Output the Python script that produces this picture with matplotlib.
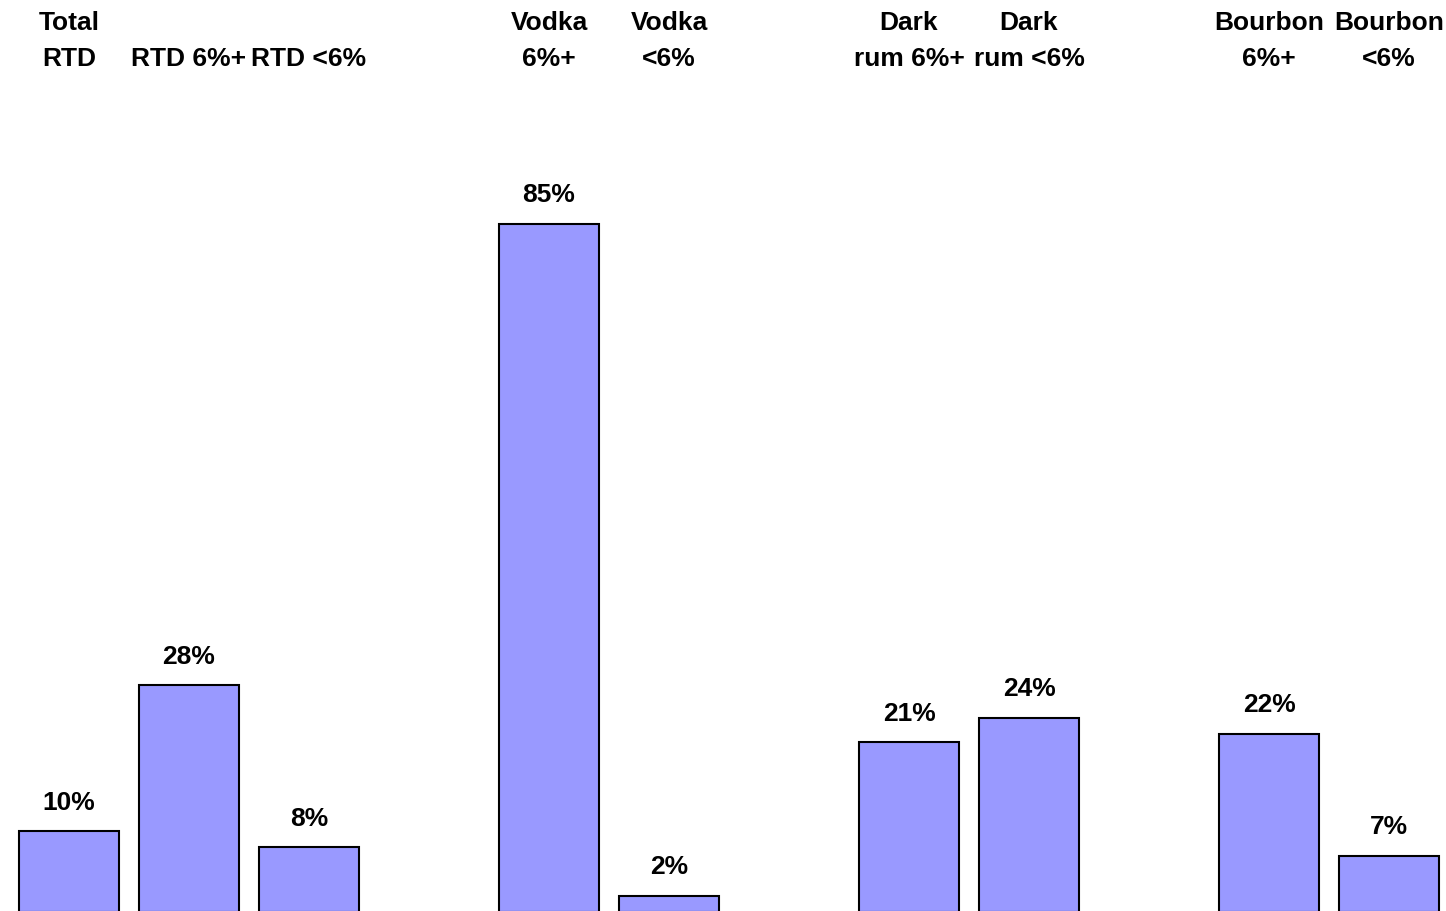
import matplotlib
matplotlib.use("Agg")
import matplotlib.pyplot as plt
from matplotlib.transforms import blended_transform_factory

# Data
label_line1 = ["Total", "", "", "Vodka", "Vodka", "Dark", "Dark", "Bourbon", "Bourbon"]
label_line2 = ["RTD", "RTD 6%+", "RTD <6%", "6%+", "<6%", "rum 6%+", "rum <6%", "6%+", "<6%"]
values = [10, 28, 8, 85, 2, 21, 24, 22, 7]
group_sizes = [3, 2, 2, 2]

plt.rcParams['font.family'] = ['Liberation Sans', 'DejaVu Sans']

# positions: groups separated by one empty slot
positions = []
slot = 0
for g in group_sizes:
    for _ in range(g):
        positions.append(slot)
        slot += 1
    slot += 1

fig = plt.figure(figsize=(14.46, 9.11), dpi=100)
ax = fig.add_axes([0, 0, 1, 1])
ax.bar(positions, values, width=100/120, color="#9999FF", edgecolor="black", linewidth=1.5)
ax.set_xlim(-0.575, 11.475)
ax.set_ylim(0.15, 112.6)
ax.axis('off')

for x, v in zip(positions, values):
    ax.annotate(f"{v}%", xy=(x, v), xytext=(0, 15.5), textcoords="offset points",
                ha="center", va="baseline", fontsize=19, fontweight="bold")

tr = blended_transform_factory(ax.transData, ax.transAxes)
for x, l1, l2 in zip(positions, label_line1, label_line2):
    if l1:
        ax.text(x, 1 - 30/911, l1, transform=tr, ha="center", va="baseline",
                fontsize=19, fontweight="bold")
    ax.text(x, 1 - 66/911, l2, transform=tr, ha="center", va="baseline",
            fontsize=19, fontweight="bold")

fig.savefig("out.png", dpi=100)
